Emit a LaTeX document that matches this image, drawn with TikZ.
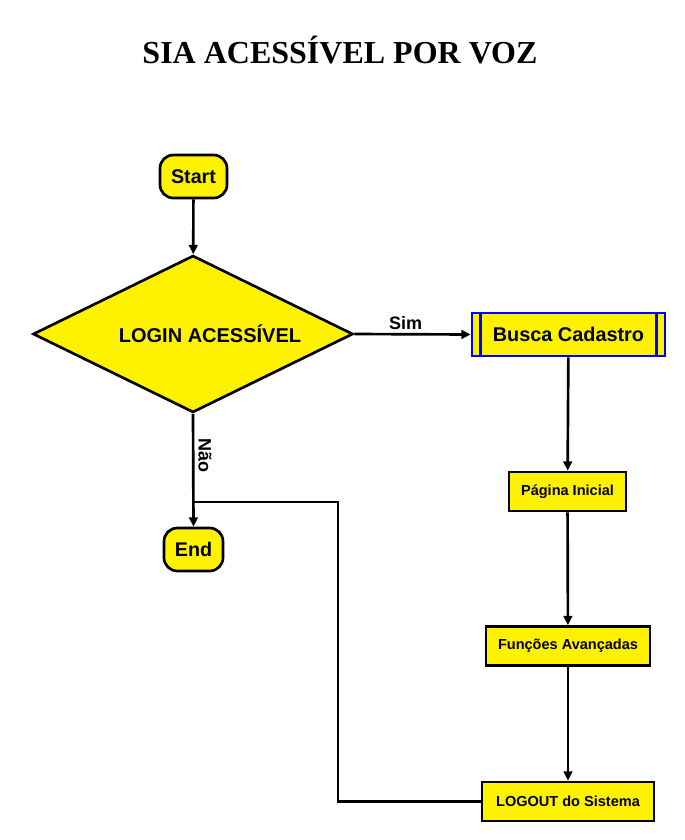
\documentclass[tikz,border=0pt]{standalone}
\usepackage{fontspec}
\setmainfont{Liberation Sans}
\newfontfamily\titlefont{Liberation Serif}
\usetikzlibrary{shapes.geometric,arrows.meta}
\begin{document}
\begin{tikzpicture}[x=0.75pt,y=-0.75pt,
  conn/.style={draw=black,line width=2pt,-{Triangle[length=7pt,width=6.5pt]}},
  plainline/.style={draw=black,line width=2pt},
  term/.style={draw=black,line width=2pt,fill=yellow,rounded corners=10pt,minimum width=67*0.75pt,minimum height=43*0.75pt,inner sep=0pt,font=\fontsize{14.8}{16}\selectfont\bfseries},
  procbox/.style={draw=black,line width=2pt,fill=yellow,inner sep=0pt,minimum height=39*0.75pt,font=\fontsize{10.9}{12}\selectfont\bfseries},
  decision/.style={draw=black,line width=2pt,fill=yellow,diamond,aspect=2.04,inner sep=0pt,minimum width=320*0.75pt,minimum height=157*0.75pt}
]
\useasboundingbox (0,0) rectangle (685,840);
\node[font=\titlefont\fontsize{24}{28}\selectfont\bfseries] (title) at (340,50) {SIA ACESSÍVEL POR VOZ};
\node[term] (start) at (193.5,176.5) {Start};
\node[decision] (login) at (193,334) {};
\node[font=\fontsize{15}{17}\selectfont\bfseries] (logintxt) at (210,334) {LOGIN ACESSÍVEL};
\node[draw=blue,line width=2pt,fill=yellow,minimum width=193*0.75pt,minimum height=43*0.75pt,inner sep=0pt,font=\fontsize{14.9}{16}\selectfont\bfseries] (busca) at (568.5,334.5) {Busca Cadastro};
\draw[blue,line width=2pt] ([xshift=7.5pt]busca.north west) -- ([xshift=7.5pt]busca.south west);
\draw[blue,line width=2pt] ([xshift=-7.5pt]busca.north east) -- ([xshift=-7.5pt]busca.south east);
\node[procbox,minimum width=117*0.75pt] (pagina) at (567.5,491.5) {Página Inicial};
\node[procbox,minimum width=164*0.75pt] (funcoes) at (568,646) {Funções Avançadas};
\node[procbox,minimum width=172*0.75pt] (logout) at (568,801.5) {LOGOUT do Sistema};
\node[term,minimum width=59*0.75pt] (endn) at (193.5,549.5) {End};
\coordinate (join) at (193,502);
\coordinate (corner1) at (338,502);
\coordinate (corner2) at (338,801.5);
\draw[conn] (start) -- (login);
\draw[conn] (login.east) -- node[above,pos=0.44,font=\fontsize{13.5}{15}\selectfont\bfseries,yshift=-1pt] (sim) {Sim} (busca.west);
\draw[conn] (busca) -- (pagina);
\draw[conn] (pagina) -- (funcoes);
\draw[conn] (funcoes) -- (logout);
\draw[conn] (login.south) -- (endn.north);
\draw[plainline] (logout.west) -- (corner2) -- (corner1) -- (join);
\node[rotate=-90,font=\fontsize{13.5}{15}\selectfont\bfseries,text=black] (nao) at (205,455) {Não};
\end{tikzpicture}
\end{document}
